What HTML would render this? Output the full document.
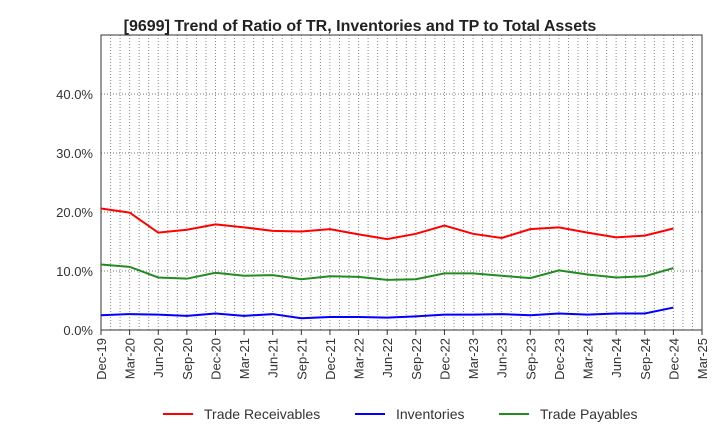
<!DOCTYPE html>
<html><head><meta charset="utf-8"><style>
body{margin:0;background:#fff;width:720px;height:440px;overflow:hidden}
svg{font-family:"Liberation Sans",sans-serif}
</style></head><body>
<svg id="c" width="720" height="440"></svg>
<script>
const categories=["Dec-19","Mar-20","Jun-20","Sep-20","Dec-20","Mar-21","Jun-21","Sep-21","Dec-21","Mar-22","Jun-22","Sep-22","Dec-22","Mar-23","Jun-23","Sep-23","Dec-23","Mar-24","Jun-24","Sep-24","Dec-24","Mar-25"];
const tradeReceivables=[20.6,19.9,16.5,17.0,17.9,17.4,16.8,16.7,17.1,16.2,15.4,16.3,17.7,16.3,15.6,17.1,17.4,16.5,15.7,16.0,17.2];
const inventories=[2.5,2.7,2.6,2.4,2.8,2.4,2.7,2.0,2.2,2.2,2.1,2.3,2.6,2.6,2.7,2.5,2.8,2.6,2.8,2.8,3.8];
const tradePayables=[11.1,10.7,8.9,8.7,9.7,9.2,9.3,8.6,9.1,9.0,8.5,8.6,9.6,9.6,9.2,8.8,10.1,9.4,8.9,9.1,10.5];
const yTicks=[0,10,20,30,40];
const yTickLabels=["0.0%","10.0%","20.0%","30.0%","40.0%"];
const L=101,R=702,T=35,B=330,YMAX=50;
const svg=document.getElementById('c');const NS="http://www.w3.org/2000/svg";
function x(i){return L+(R-L)*i/(categories.length-1);}
function y(v){return B-(B-T)*v/YMAX;}
function el(t,a,p){const e=document.createElementNS(NS,t);for(const k in a)e.setAttribute(k,a[k]);(p||svg).appendChild(e);return e;}
const title=el('text',{x:360,y:31,'text-anchor':'middle','font-size':16,'font-weight':'bold',fill:'#222'});
title.textContent="[9699]  Trend of Ratio of TR, Inventories and TP to Total Assets";


const g=el('g',{});


for(let m=0;m<=(categories.length-1)*3;m++){const xx=L+(R-L)*m/((categories.length-1)*3);el('line',{x1:xx,x2:xx,y1:T,y2:B,stroke:'#888','stroke-dasharray':'1,2','stroke-width':1},g);}
yTicks.forEach((v,i)=>{if(v>0)el('line',{x1:L,x2:R,y1:y(v),y2:y(v),stroke:'#777','stroke-dasharray':'1,2'},g);
const t=el('text',{x:L-8,y:y(v)+5,'text-anchor':'end','font-size':13,fill:'#333'});t.textContent=yTickLabels[i];

});
const fr=el('rect',{x:L,y:T,width:R-L,height:B-T,fill:'none',stroke:'#333'});


categories.forEach((c,i)=>{el('line',{x1:x(i),x2:x(i),y1:B,y2:B+5,stroke:'#333'});
const t=el('text',{transform:`translate(${x(i)+5},${B+8}) rotate(-90)`,'text-anchor':'end','font-size':13,fill:'#333'});t.textContent=c;

});
const series=[[tradeReceivables,'#ff0000','trade-receivables-line'],[inventories,'#0000ff','inventories-line'],[tradePayables,'#228b22','trade-payables-line']];
series.forEach(([d,c,n])=>{const p=el('polyline',{points:d.map((v,i)=>x(i)+','+y(v)).join(' '),fill:'none',stroke:c,'stroke-width':2});

});
const leg=[["Trade Receivables",'#ff0000',163],["Inventories",'#0000ff',355],["Trade Payables",'#228b22',499]];
leg.forEach(([n,c,lx])=>{const gg=el('g',{});


el('line',{x1:lx,x2:lx+30,y1:414,y2:414,stroke:c,'stroke-width':2},gg);
const t=el('text',{x:lx+41,y:419,'font-size':14,fill:'#333'},gg);t.textContent=n;});
</script>
</body></html>
